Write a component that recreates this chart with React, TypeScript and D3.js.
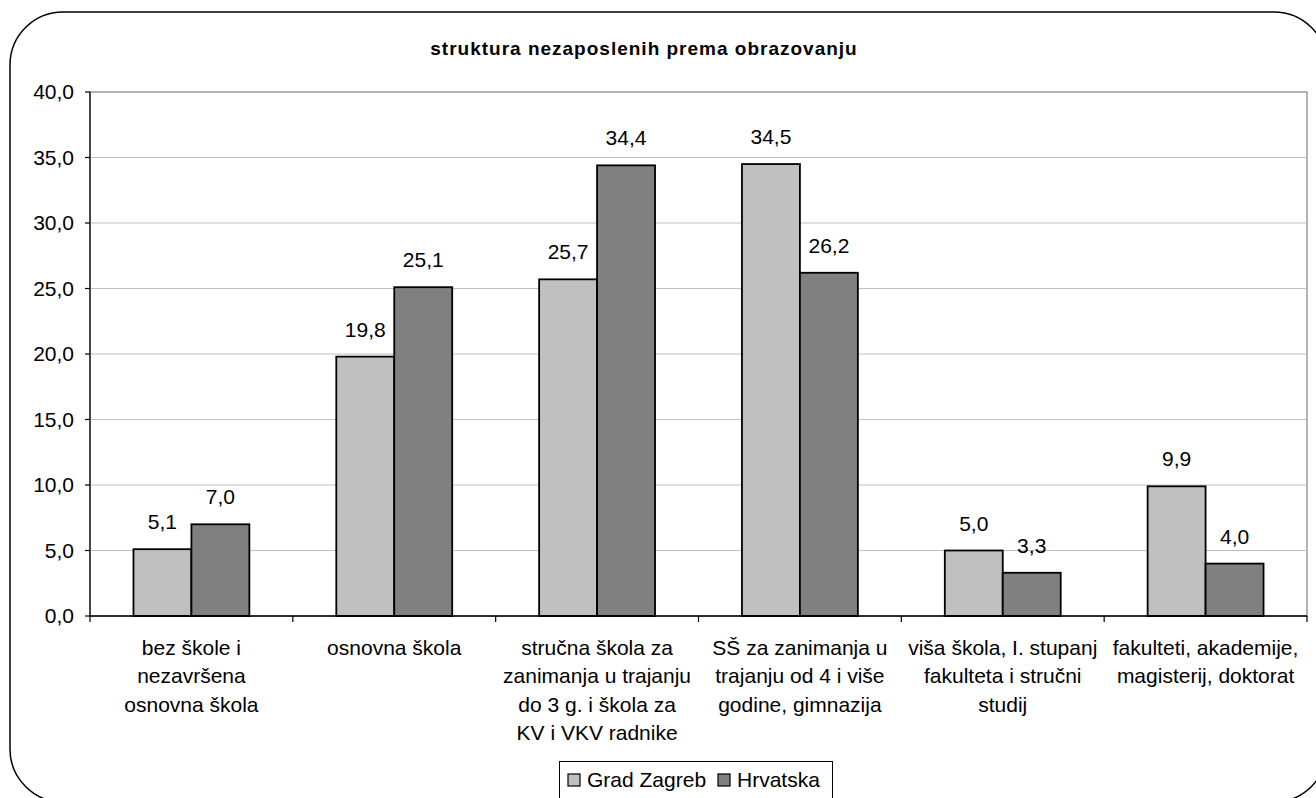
import React from "react";
import * as d3 from "d3";

const title = "struktura nezaposlenih prema obrazovanju";
const categories: string[][] = [
  ["bez škole i", "nezavršena", "osnovna škola"],
  ["osnovna škola"],
  ["stručna škola za", "zanimanja u trajanju", "do 3 g. i škola za", "KV i VKV radnike"],
  ["SŠ za zanimanja u", "trajanju od 4 i više", "godine, gimnazija"],
  ["viša škola, I. stupanj", "fakulteta i stručni", "studij"],
  ["fakulteti, akademije,", "magisterij, doktorat"],
];
const seriesNames = ["Grad Zagreb", "Hrvatska"];
const gradZagreb = [5.1, 19.8, 25.7, 34.5, 5.0, 9.9];
const hrvatska = [7.0, 25.1, 34.4, 26.2, 3.3, 4.0];
const yTicks = [0, 5, 10, 15, 20, 25, 30, 35, 40];

const colors = ["#c0c0c0", "#808080"];
const FONT = "'Liberation Sans', Arial, Helvetica, sans-serif";

export default function App() {
  const W = 1316, H = 798;
  const left = 90, right = 1307, top = 92, bottom = 616;
  const catIdx = categories.map((_, i) => i);
  const x0 = d3.scaleBand<number>().domain(catIdx).range([left, right]).paddingInner(0).paddingOuter(0);
  const x1 = d3.scaleBand<number>().domain([0, 1]).range([0, x0.bandwidth()]).paddingInner(0).paddingOuter(0.75);
  const y = d3.scaleLinear().domain([0, 40]).range([bottom, top]);
  const series = [gradZagreb, hrvatska];
  const fmt = (v: number) => d3.format(".1f")(v).replace(".", ",");

  return (
    <svg width={W} height={H} style={{ position: "absolute", left: 0, top: 0, background: "#fff" }} fontFamily={FONT}>
      <rect x={10} y={12} width={1317} height={790} rx={53} ry={53} fill="#fff" stroke="#000" strokeWidth={1.5} />
      <text x={644} y={55} textAnchor="middle" fontSize={19} fontWeight="bold" letterSpacing={1} fill="#000">{title}</text>

      {/* plot area */}
      <rect x={left} y={top} width={right - left} height={bottom - top} fill="#fff" stroke="#808080" strokeWidth={1.2} />
      {yTicks.filter(t => t > 0 && t < 40).map(t => (
        <line key={"g" + t} x1={left} x2={right} y1={y(t)} y2={y(t)} stroke="#c0c0c0" strokeWidth={1} />
      ))}
      {/* y axis */}
      <line x1={left} x2={left} y1={top} y2={bottom} stroke="#000" strokeWidth={1.2} />
      {yTicks.map(t => (
        <g key={"t" + t}>
          <line x1={left - 5} x2={left} y1={y(t)} y2={y(t)} stroke="#000" strokeWidth={1.2} />
          <text x={74} y={y(t)} dy="0.35em" textAnchor="end" fontSize={21} fill="#000">{fmt(t)}</text>
        </g>
      ))}

      {/* bars */}
      {catIdx.map(i => (
        <g key={"c" + i} transform={`translate(${x0(i)},0)`}>
          {series.map((s, k) => (
            <g key={k}>
              <rect x={x1(k)} y={y(s[i])} width={x1.bandwidth()} height={y(0) - y(s[i])} fill={colors[k]} stroke="#000" strokeWidth={1.8} />
              <text x={(x1(k) as number) + x1.bandwidth() / 2} y={y(s[i]) - 20} textAnchor="middle" fontSize={21} fill="#000">{fmt(s[i])}</text>
            </g>
          ))}
        </g>
      ))}

      {/* x axis */}
      <line x1={left} x2={right} y1={bottom} y2={bottom} stroke="#000" strokeWidth={1.5} />
      {[...catIdx, categories.length].map(i => {
        const xx = i < categories.length ? (x0(i) as number) : right;
        return <line key={"xt" + i} x1={xx} x2={xx} y1={bottom} y2={bottom + 6} stroke="#000" strokeWidth={1.2} />;
      })}
      {categories.map((lines, i) => (
        <text key={"cl" + i} textAnchor="middle" fontSize={21} fill="#000">
          {lines.map((ln, j) => (
            <tspan key={j} x={(x0(i) as number) + x0.bandwidth() / 2} y={655 + j * 28.3}>{ln}</tspan>
          ))}
        </text>
      ))}

      {/* legend */}
      <rect x={559.5} y={761.5} width={273} height={50} fill="#fff" stroke="#000" strokeWidth={1} />
      {seriesNames.map((n, k) => {
        const sx = k === 0 ? 568 : 718;
        return (
          <g key={"lg" + k}>
            <rect x={sx} y={774} width={12} height={12} fill={colors[k]} stroke="#000" strokeWidth={1.2} />
            <text x={sx + 19} y={787} fontSize={21} fill="#000">{n}</text>
          </g>
        );
      })}
    </svg>
  );
}
